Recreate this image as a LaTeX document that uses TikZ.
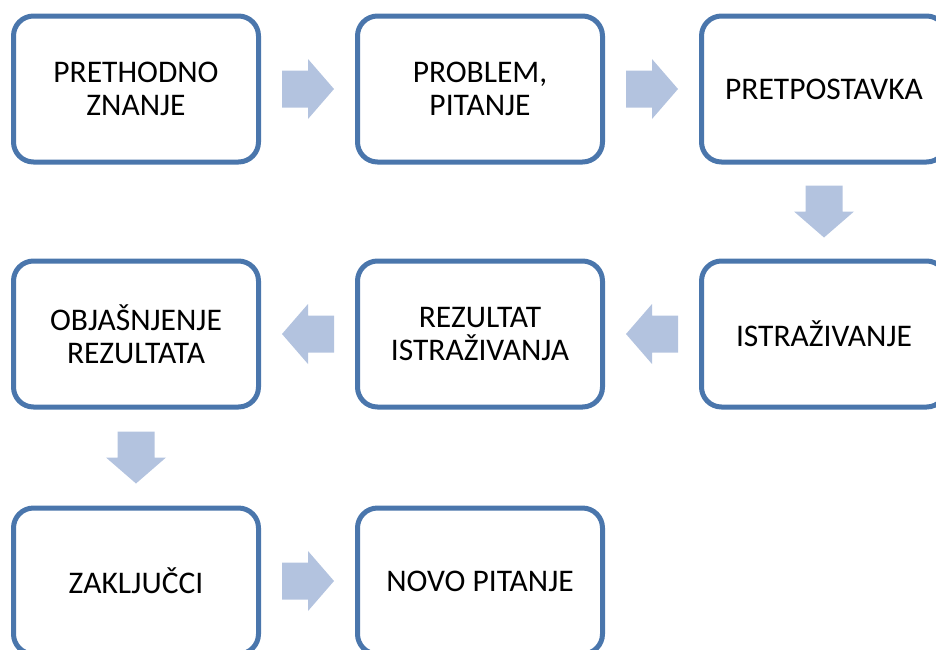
\documentclass[tikz,border=0pt]{standalone}
\usepackage{fontspec}
\setmainfont{Carlito}
\usetikzlibrary{calc}
\definecolor{boxc}{HTML}{4A76AC}
\definecolor{arrc}{HTML}{B3C3DF}
\begin{document}
\begin{tikzpicture}[x=1pt,y=1pt,
  stepbox/.style={draw=boxc, line width=5pt, rounded corners=20pt, fill=white,
    minimum width=245pt, minimum height=146pt, align=center,
    font=\fontsize{31.5}{33.5}\selectfont, inner sep=0pt},
  blockarrow/.pic={\fill[arrc] (-26,-18.5) -- (0,-18.5) -- (0,-30) -- (26,0) -- (0,30) -- (0,18.5) -- (-26,18.5) -- cycle;}]
\useasboundingbox (0,0) rectangle (936,-649);
\clip (0,0) rectangle (936,-649);
\node[stepbox] (a) at (136,-89) {PRETHODNO\\ZNANJE};
\node[stepbox] (b) at (480,-89) {PROBLEM,\\PITANJE};
\node[stepbox] (c) at (824,-89) {PRETPOSTAVKA};
\node[stepbox] (d) at (824,-334) {ISTRAŽIVANJE};
\node[stepbox] (e) at (480,-334) {REZULTAT\\ISTRAŽIVANJA};
\node[stepbox] (f) at (136,-334) {OBJAŠNJENJE\\REZULTATA};
\node[stepbox] (g) at (136,-581) {ZAKLJUČCI};
\node[stepbox] (h) at (480,-581) {NOVO PITANJE};
\pic at ($(a.east)!0.5!(b.west)$) {blockarrow};
\pic at ($(b.east)!0.5!(c.west)$) {blockarrow};
\pic[rotate=-90] at ($(c.south)!0.5!(d.north)$) {blockarrow};
\pic[rotate=180] at ($(d.west)!0.5!(e.east)$) {blockarrow};
\pic[rotate=180] at ($(e.west)!0.5!(f.east)$) {blockarrow};
\pic[rotate=-90] at ($(f.south)!0.5!(g.north)$) {blockarrow};
\pic at ($(g.east)!0.5!(h.west)$) {blockarrow};
\end{tikzpicture}
\end{document}
